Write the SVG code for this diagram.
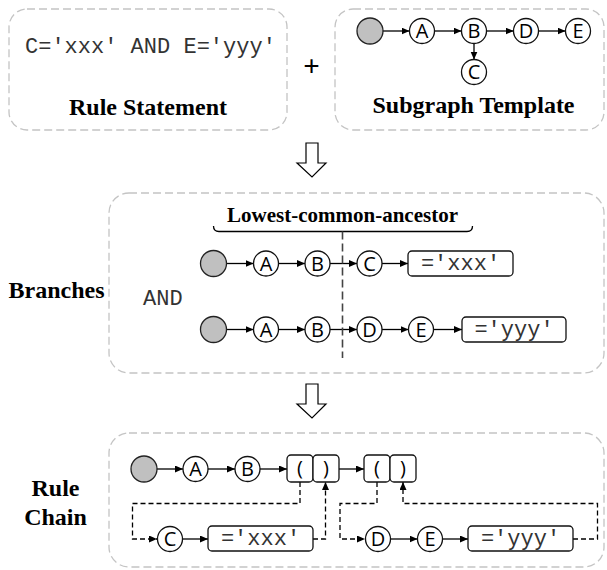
<svg xmlns="http://www.w3.org/2000/svg" width="607" height="570" viewBox="0 0 607 570">
  <defs>
    <marker id="arrow" markerUnits="userSpaceOnUse" markerWidth="9" markerHeight="8" refX="8" refY="3.5" orient="auto">
      <path d="M0,0 L8,3.5 L0,7 Z" fill="#000"/>
    </marker>
    <style>
      .panel { fill: none; stroke: #c4c4c4; stroke-width: 1.3; stroke-dasharray: 8 4; }
      .title { font-family: "Liberation Serif", "Times New Roman", serif; font-weight: bold; font-size: 24px; fill: #000; text-anchor: middle; }
      .mono { font-family: "Liberation Mono", "Courier New", monospace; font-size: 22px; fill: #333; }
      .root { fill: #c0c0c0; stroke: #222; stroke-width: 1.3; }
      .node { fill: #fff; stroke: #111; stroke-width: 1.3; }
      .lbl { font-family: "Open Sans", "Noto Sans", sans-serif; font-size: 20px; fill: #000; text-anchor: middle; }
      .val { fill: #fff; stroke: #111; stroke-width: 1.3; }
      .edge { fill: none; stroke: #000; stroke-width: 1.3; marker-end: url(#arrow); }
      .linka { fill: none; stroke: #000; stroke-width: 1.3; stroke-dasharray: 5 3; marker-end: url(#arrow); }
      .hollow { fill: #fff; stroke: #000; stroke-width: 1.2; }
    </style>
  </defs>

  <!-- Panels -->
  <g id="panel-rule-statement">
    <rect class="panel" x="9" y="9" width="278" height="121" rx="18"/>
    <text class="mono" x="25" y="53">C='xxx' AND E='yyy'</text>
    <text class="title" x="148" y="115">Rule Statement</text>
  </g>
  <text id="plus" class="title" x="311.5" y="76" style="font-size:29px">+</text>
  <g id="panel-subgraph-template">
    <rect class="panel" x="335" y="9" width="269" height="121" rx="18"/>
    <text class="title" x="473.5" y="113">Subgraph Template</text>
  </g>
  <g id="arrow-down-1">
    <path class="hollow" d="M306,143 H318 V163 H326 L312,177 L297,163 H306 Z"/>
  </g>
  <g id="panel-branches">
    <rect class="panel" x="109" y="193" width="495" height="180" rx="20"/>
    <text class="title" x="56.5" y="298">Branches</text>
    <text class="mono" x="143" y="305">AND</text>
    <text class="title" x="342.5" y="222" style="font-size:21px">Lowest-common-ancestor</text>
    <path d="M213.5,226 Q213.5,231.5 219,231.5 H467 Q472.5,231.5 472.5,226" fill="none" stroke="#000" stroke-width="1.3"/>
  </g>
  <g id="arrow-down-2">
    <path class="hollow" d="M306,384 H318 V404 H326 L312,418 L297,404 H306 Z"/>
  </g>
  <g id="panel-rule-chain">
    <rect class="panel" x="109" y="433" width="495" height="134" rx="20"/>
    <text class="title" x="55.5" y="496">Rule</text>
    <text class="title" x="55.5" y="525">Chain</text>
  </g>

  <!-- Connectors -->
  <g id="connectors">
    <!-- template graph -->
    <line class="edge" x1="383" y1="31" x2="409.5" y2="31"/>
    <line class="edge" x1="434.5" y1="31" x2="461.5" y2="31"/>
    <line class="edge" x1="486.5" y1="31" x2="513.5" y2="31"/>
    <line class="edge" x1="538.5" y1="31" x2="565.5" y2="31"/>
    <line class="edge" x1="474" y1="43.5" x2="474" y2="59.5"/>
    <!-- branch 1 -->
    <line class="edge" x1="226.5" y1="263.5" x2="253.5" y2="263.5"/>
    <line class="edge" x1="278.5" y1="263.5" x2="305" y2="263.5"/>
    <line class="edge" x1="330" y1="263.5" x2="357" y2="263.5"/>
    <line class="edge" x1="382" y1="263.5" x2="408" y2="263.5"/>
    <!-- branch 2 -->
    <line class="edge" x1="226.5" y1="329.5" x2="253.5" y2="329.5"/>
    <line class="edge" x1="278.5" y1="329.5" x2="305" y2="329.5"/>
    <line class="edge" x1="330" y1="329.5" x2="357" y2="329.5"/>
    <line class="edge" x1="382" y1="329.5" x2="408.5" y2="329.5"/>
    <line class="edge" x1="433.5" y1="329.5" x2="462" y2="329.5"/>
    <!-- ancestor split -->
    <line x1="342.5" y1="231.5" x2="342.5" y2="358" stroke="#444" stroke-width="1.6" stroke-dasharray="8 4"/>
    <!-- rule chain main row -->
    <line class="edge" x1="157" y1="469" x2="183" y2="469"/>
    <line class="edge" x1="208" y1="469" x2="235" y2="469"/>
    <line class="edge" x1="260" y1="469" x2="287" y2="469"/>
    <line class="edge" x1="339" y1="469" x2="364" y2="469"/>
    <!-- first group -->
    <path class="linka" d="M300,482 V503.5 H132.5 V539 H157"/>
    <line class="edge" x1="182.5" y1="539" x2="208" y2="539"/>
    <path class="linka" d="M313,539 H325.5 V482"/>
    <!-- second group -->
    <path class="linka" d="M377,482 V503.5 H340 V539 H365"/>
    <line class="edge" x1="390.5" y1="539" x2="417.5" y2="539"/>
    <line class="edge" x1="442.5" y1="539" x2="468" y2="539"/>
    <path class="linka" d="M573,539 H597.5 V503.5 H403 V482"/>
  </g>

  <!-- Template graph nodes -->
  <g id="t-root"><circle class="root" cx="370" cy="31" r="13"/></g>
  <g id="t-A"><circle class="node" cx="422" cy="31" r="12.5"/><text class="lbl" x="422" y="38">A</text></g>
  <g id="t-B"><circle class="node" cx="474" cy="31" r="12.5"/><text class="lbl" x="474" y="38">B</text></g>
  <g id="t-D"><circle class="node" cx="526" cy="31" r="12.5"/><text class="lbl" x="526" y="38">D</text></g>
  <g id="t-E"><circle class="node" cx="578" cy="31" r="12.5"/><text class="lbl" x="578" y="38">E</text></g>
  <g id="t-C"><circle class="node" cx="474" cy="72" r="12.5"/><text class="lbl" x="474" y="79">C</text></g>

  <!-- Branch 1 nodes -->
  <g id="b1-root"><circle class="root" cx="213.5" cy="263.5" r="13"/></g>
  <g id="b1-A"><circle class="node" cx="266" cy="263.5" r="12.5"/><text class="lbl" x="266" y="270.5">A</text></g>
  <g id="b1-B"><circle class="node" cx="317.5" cy="263.5" r="12.5"/><text class="lbl" x="317.5" y="270.5">B</text></g>
  <g id="b1-C"><circle class="node" cx="369.5" cy="263.5" r="12.5"/><text class="lbl" x="369.5" y="270.5">C</text></g>
  <g id="b1-val"><rect class="val" x="408" y="251" width="105" height="25" rx="4"/><text class="mono" x="460.5" y="270" text-anchor="middle">='xxx'</text></g>

  <!-- Branch 2 nodes -->
  <g id="b2-root"><circle class="root" cx="213.5" cy="329.5" r="13"/></g>
  <g id="b2-A"><circle class="node" cx="266" cy="329.5" r="12.5"/><text class="lbl" x="266" y="336.5">A</text></g>
  <g id="b2-B"><circle class="node" cx="317.5" cy="329.5" r="12.5"/><text class="lbl" x="317.5" y="336.5">B</text></g>
  <g id="b2-D"><circle class="node" cx="369.5" cy="329.5" r="12.5"/><text class="lbl" x="369.5" y="336.5">D</text></g>
  <g id="b2-E"><circle class="node" cx="421" cy="329.5" r="12.5"/><text class="lbl" x="421" y="336.5">E</text></g>
  <g id="b2-val"><rect class="val" x="462" y="317" width="104" height="25" rx="4"/><text class="mono" x="514" y="336" text-anchor="middle">='yyy'</text></g>

  <!-- Rule chain nodes -->
  <g id="c-root"><circle class="root" cx="144" cy="469" r="13"/></g>
  <g id="c-A"><circle class="node" cx="195.5" cy="469" r="12.5"/><text class="lbl" x="195.5" y="476">A</text></g>
  <g id="c-B"><circle class="node" cx="247.5" cy="469" r="12.5"/><text class="lbl" x="247.5" y="476">B</text></g>
  <g id="c-open1"><rect class="val" x="287" y="455" width="26" height="27" rx="4"/><text class="lbl" x="300" y="475">(</text></g>
  <g id="c-close1"><rect class="val" x="313" y="455" width="26" height="27" rx="4"/><text class="lbl" x="326" y="475">)</text></g>
  <g id="c-open2"><rect class="val" x="364" y="455" width="26" height="27" rx="4"/><text class="lbl" x="377" y="475">(</text></g>
  <g id="c-close2"><rect class="val" x="390" y="455" width="26" height="27" rx="4"/><text class="lbl" x="403" y="475">)</text></g>
  <g id="c-C"><circle class="node" cx="170" cy="539" r="12.5"/><text class="lbl" x="170" y="546">C</text></g>
  <g id="c-val1"><rect class="val" x="208" y="526" width="105" height="25" rx="4"/><text class="mono" x="260.5" y="545" text-anchor="middle">='xxx'</text></g>
  <g id="c-D"><circle class="node" cx="378" cy="539" r="12.5"/><text class="lbl" x="378" y="546">D</text></g>
  <g id="c-E"><circle class="node" cx="430" cy="539" r="12.5"/><text class="lbl" x="430" y="546">E</text></g>
  <g id="c-val2"><rect class="val" x="468" y="526" width="105" height="25" rx="4"/><text class="mono" x="520.5" y="545" text-anchor="middle">='yyy'</text></g>
</svg>
